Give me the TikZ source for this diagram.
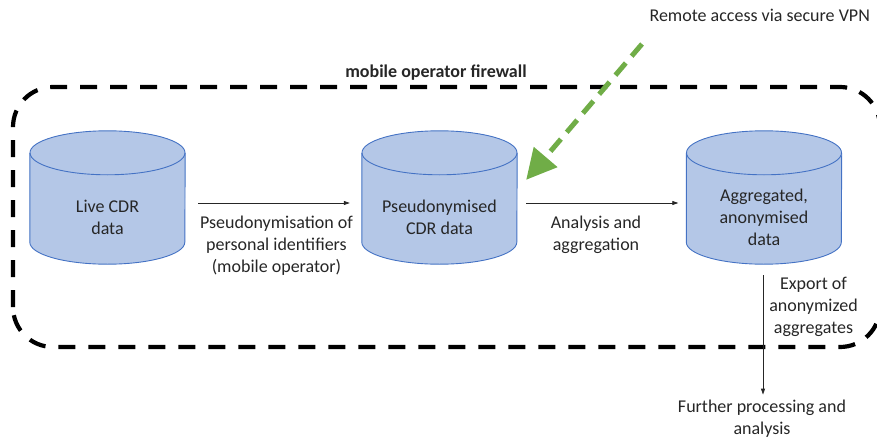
\documentclass[tikz,border=0pt]{standalone}
\usepackage{fontspec}
\setmainfont{Carlito}
\usetikzlibrary{arrows.meta,calc}
\definecolor{cylfill}{HTML}{B4C7E7}
\definecolor{cylline}{HTML}{4472C4}
\definecolor{vpngreen}{HTML}{70AD47}
\definecolor{txtcol}{HTML}{262626}
\newcommand\cylinderat[1]{%
  \fill[cylfill] ([yshift=-22pt]#1.north west) -- ([yshift=22pt]#1.south west)
    arc[start angle=180,end angle=360,x radius=77.5pt,y radius=22pt]
    -- ([yshift=-22pt]#1.north east)
    arc[start angle=0,end angle=180,x radius=77.5pt,y radius=22pt] -- cycle;
  \draw[cylline,line width=0.9pt] ([yshift=-22pt]#1.north west) -- ([yshift=22pt]#1.south west)
    arc[start angle=180,end angle=360,x radius=77.5pt,y radius=22pt]
    -- ([yshift=-22pt]#1.north east);
  \draw[cylline,line width=0.9pt] ([yshift=-22pt]#1.north) ellipse[x radius=77.5pt,y radius=22pt];
}
\begin{document}
\begin{tikzpicture}[x=1pt,y=1pt,
  txt/.style={font=\fontsize{18}{22}\selectfont,text=txtcol,align=center,inner sep=0pt},
  cylbox/.style={draw=none,minimum width=155pt,minimum height=133pt,inner sep=0pt},
  flow/.style={-{Triangle[length=6pt,width=4pt]},line width=0.8pt,txtcol},
  firewall/.style={line width=4.2pt,dash pattern=on 17pt off 13pt,rounded corners=40pt},
  vpn/.style={vpngreen,line width=5pt,dash pattern=on 16pt off 9pt,
    -{Triangle[length=30pt,width=30pt]}}]
\useasboundingbox (0,0) rectangle (877,440);
% firewall
\draw[firewall] (13,93) rectangle (880,353);
\node[txt,font=\fontsize{18}{22}\selectfont\bfseries] (fwlabel) at (436,367) {mobile operator firewall};
% cylinders
\node[cylbox] (live) at (107.5,242.5) {};
\node[cylbox] (pseudo) at (439.5,242.5) {};
\node[cylbox] (agg) at (764,242.5) {};
\cylinderat{live}
\cylinderat{pseudo}
\cylinderat{agg}
\node[txt] (livetxt) at (107.5,222.5) {Live CDR\\data};
\node[txt] (pseudotxt) at (439.5,222.5) {Pseudonymised\\CDR data};
\node[txt] (aggtxt) at (764,223) {Aggregated,\\anonymised\\data};
% arrows
\draw[flow] ([xshift=13pt,yshift=-5.5pt]live.east) -- ([xshift=-12pt,yshift=-5.5pt]pseudo.west);
\node[txt] (lab1) at (276.5,194) {Pseudonymisation of\\personal identifiers\\(mobile operator)};
\draw[flow] ([xshift=9pt,yshift=-5.5pt]pseudo.east) -- ([xshift=-8pt,yshift=-5.5pt]agg.west);
\node[txt] (lab2) at (596,205) {Analysis and\\aggregation};
\node[txt] (further) at (762,21) {Further processing and\\analysis};
\draw[flow] ([xshift=-1pt,yshift=-11pt]agg.south) -- ([yshift=5.5pt]further.north -| {763,0});
\node[txt] (lab3) at (813.5,133) {Export of\\anonymized\\aggregates};
% VPN
\node[txt] (remote) at (759.7,425) {Remote access via secure VPN};
\coordinate (vpnstart) at (642,396);
\draw[vpn] (vpnstart) -- ([xshift=9pt,yshift=-49pt]pseudo.north east);
\end{tikzpicture}
\end{document}
